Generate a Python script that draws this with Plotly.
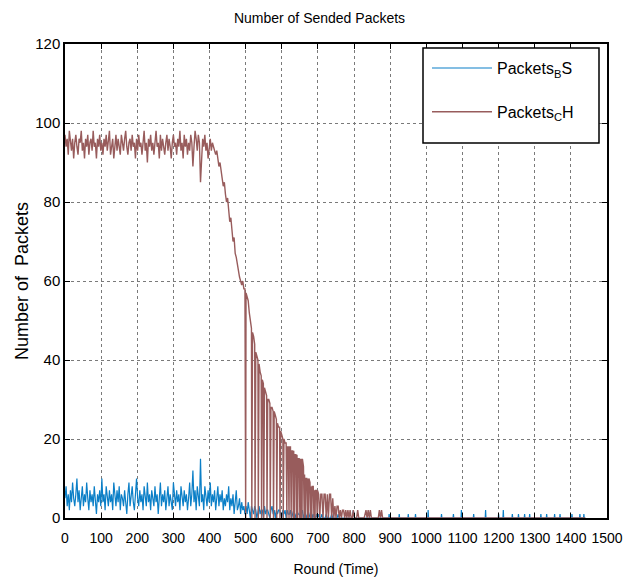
import plotly.graph_objects as go

# ---------------- data ----------------
STEP = 3  # rounds between sampled points

# Packets CH, rounds 0..498
ch_plateau = [
    97, 94, 96, 92, 98, 95, 93, 96, 91, 95, 97, 94, 92, 96, 95, 98, 93, 95, 91, 96, 94, 97, 92, 95, 96, 93, 98, 94, 95, 91, 96, 94, 97, 93,
    95, 92, 96, 94, 97, 93, 95, 98, 92, 94, 96, 91, 95, 97, 93, 96, 94, 92, 97, 95, 93, 96, 98, 94, 92, 95, 96, 93, 97, 94, 95, 91, 96, 93,
    97, 94, 95, 92, 96, 98, 93, 95, 90, 96, 94, 97, 93, 95, 92, 96, 98, 94, 95, 91, 97, 93, 96, 94, 92, 95, 97, 93, 96, 94, 91, 95, 97, 94,
    95, 92, 96, 94, 98, 93, 95, 91, 97, 94, 96, 92, 95, 93, 97, 95, 89, 94, 98, 96, 93, 97, 95, 85, 92, 96, 94, 97, 93, 95, 91, 94, 96, 93,
    95, 94, 93, 92, 93, 91, 89, 90, 87, 86, 84, 85, 82, 80, 81, 77, 75, 76, 72, 70, 71, 67, 66, 64, 63, 61, 60, 59, 60, 58, 58,
]
# Packets CH envelope, rounds 501..699
ch_envelope = [
    57, 56, 55, 52, 50, 48, 47, 46, 44, 42, 41, 40, 39, 37, 36, 35, 34, 33, 32, 31,
    30, 30, 29, 28, 28, 27, 27, 26, 25, 24, 23, 23, 22, 21, 20, 20, 19, 19, 18, 18,
    18, 18, 17, 17, 17, 16, 16, 16, 15, 15, 15, 15, 15, 13, 11, 10, 10, 10, 10, 9,
    8, 8, 8, 7, 7, 7, 7,
]
# rounds in which Packets CH fell to zero
ch_drop_rounds = [500, 517, 526, 535, 544, 550, 559, 568, 577, 586, 595, 604, 614, 620, 626, 632,
                  635, 641, 644, 650, 653, 656, 662, 665, 671, 674, 680, 683, 689, 692, 698]
# Packets CH, rounds 702..828
ch_late = [
    6, 0, 6, 6, 0, 6, 6, 0, 6, 0, 6, 6, 0, 5, 0, 3, 0, 3, 3, 0, 2, 0, 2, 2, 0, 2, 0, 2, 0, 2,
    0, 0, 2, 0, 0, 0, 2, 0, 0, 0, 0, 0, 0,
]
ch_tail_rounds = [833, 836, 839, 842, 845, 848, 867, 870, 873, 876, 879, 1440]
ch_tail_values = [2, 0, 2, 0, 2, 0, 0, 2, 0, 2, 0, 0]

# Packets BS, rounds 0..498
bs_plateau = [
    5, 8, 3, 6, 2, 7, 4, 9, 5, 3, 6, 10, 4, 7, 2, 5, 8, 3, 6, 4, 9, 5, 2, 7, 4, 6, 3, 8, 5, 1, 6, 4, 7, 3,
    10, 4, 6, 2, 8, 5, 3, 7, 4, 6, 2, 9, 5, 3, 7, 4, 8, 2, 6, 5, 3, 7, 4, 1, 6, 9, 3, 5, 8, 4, 2, 6, 10, 5,
    3, 7, 4, 6, 2, 8, 5, 3, 9, 4, 6, 2, 7, 5, 3, 8, 4, 6, 1, 5, 9, 3, 6, 4, 7, 2, 5, 8, 3, 6, 4, 2, 9, 5,
    3, 7, 4, 6, 2, 8, 5, 3, 7, 4, 6, 2, 5, 9, 3, 6, 12, 4, 7, 2, 8, 5, 3, 15, 4, 6, 2, 8, 5, 3, 7, 4, 9, 3,
    6, 4, 7, 2, 5, 8, 3, 6, 4, 7, 2, 5, 3, 6, 4, 8, 2, 5, 3, 6, 1, 4, 7, 2, 3, 5, 1, 4, 2, 3, 1,
]
# Packets BS, rounds 501..828
bs_decline = [
    3, 1, 4, 2, 0, 3, 2, 1, 3, 2, 0, 2, 3, 1, 2, 2, 0, 3, 1, 2, 2, 1, 0, 2, 3, 1, 2, 0, 2, 1, 2, 2, 1, 0,
    2, 1, 2, 0, 2, 1, 1, 2, 0, 1, 2, 1, 0, 2, 1, 1, 0, 1, 2, 0, 1, 1, 0, 1, 0, 1, 2, 0, 1, 0, 0, 1, 0, 1,
    0, 0, 1, 0, 0, 0, 1, 0, 0, 0, 0, 1, 0, 0, 0, 0, 0, 1, 0, 0, 0, 0, 0, 0, 0, 0, 0, 0, 0, 0, 0, 2, 0, 0, 0, 0, 0, 0, 0, 0, 0, 0,
]
bs_spike_rounds = [897, 925, 950, 970, 1005, 1042, 1075, 1097, 1131, 1164, 1200, 1213, 1238,
                   1255, 1272, 1286, 1317, 1333, 1355, 1370, 1403, 1425, 1436]
bs_spike_heights = [1, 1, 1, 1, 2, 1, 1, 2, 1, 2, 1, 2, 1, 1, 1, 1, 1, 1, 1, 1, 1, 1, 1]
bs_end_round = 1440

x_ticks = list(range(0, 1501, 100))
y_ticks = list(range(0, 121, 20))

# ---------------- build series ----------------
plateau_x = [i * STEP for i in range(len(ch_plateau))]
env_x = [501 + i * STEP for i in range(len(ch_envelope))]
late_x = [702 + i * STEP for i in range(len(ch_late))]
mid = sorted(list(zip(env_x, ch_envelope)) + [(r, 0) for r in ch_drop_rounds])
ch_x = plateau_x + [p[0] for p in mid] + late_x + ch_tail_rounds
ch_y = ch_plateau + [p[1] for p in mid] + ch_late + ch_tail_values

bs_px = [i * STEP for i in range(len(bs_plateau))]
bs_dx = [501 + i * STEP for i in range(len(bs_decline))]
bs_x = bs_px + bs_dx
bs_y = bs_plateau + bs_decline
for r, h in zip(bs_spike_rounds, bs_spike_heights):
    bs_x += [r - 1, r, r + 1]
    bs_y += [0, h, 0]
bs_x.append(bs_end_round)
bs_y.append(0)

FONT = "Liberation Sans, Arial, sans-serif"
BLUE = "#0b7fc7"
BROWN = "#985c5c"

fig = go.Figure()
fig.add_trace(go.Scatter(x=bs_x, y=bs_y, mode="lines", name="Packets<sub>B</sub>S",
                         line=dict(color=BLUE, width=1.2), legendgroup="a"))
fig.add_trace(go.Scatter(x=ch_x, y=ch_y, mode="lines", name="Packets<sub>C</sub>H",
                         line=dict(color=BROWN, width=1.4), legendgroup="b"))

axis_common = dict(showline=True, linecolor="black", linewidth=1.5, mirror="ticks",
                   ticks="inside", ticklen=5, tickcolor="black", tickwidth=1,
                   showgrid=True, gridcolor="#7a7a7a", griddash="dot", gridwidth=1,
                   zeroline=False, automargin=False)

fig.update_xaxes(range=[0, 1500], tickvals=x_ticks, tickangle=0, ticklabelstandoff=6,
                 tickfont=dict(family=FONT, size=14, color="black"),
                 title=dict(text="Round (Time)", font=dict(family=FONT, size=14, color="black"), standoff=20),
                 **axis_common)
fig.update_yaxes(range=[0, 120], tickvals=y_ticks,
                 tickfont=dict(family=FONT, size=15, color="black"),
                 title=dict(text="Number of  Packets", font=dict(family=FONT, size=18, color="black"), standoff=2),
                 **axis_common)

# legend frame (MATLAB-style box)
fig.add_shape(type="rect", xref="paper", yref="paper",
              x0=(423 - 65) / 542, x1=(599 - 65) / 542, y0=(518 - 143) / 474, y1=(518 - 48) / 474,
              line=dict(color="black", width=1.5), fillcolor="white", layer="above")

fig.update_layout(
    width=639, height=584,
    margin=dict(l=65, r=32, t=44, b=66),
    paper_bgcolor="white", plot_bgcolor="white",
    title=dict(text="Number of Sended Packets", x=0.5, xanchor="center", y=1 - 18 / 584, yanchor="middle",
               yref="container", font=dict(family=FONT, size=14, color="black")),
    legend=dict(x=(427 - 65) / 542, xanchor="left", y=0.985, yanchor="top",
                bgcolor="rgba(0,0,0,0)", borderwidth=0,
                font=dict(family=FONT, size=16, color="black"),
                itemwidth=60, tracegroupgap=20, traceorder="grouped"),
    showlegend=True,
)

fig.write_html("out.html")
